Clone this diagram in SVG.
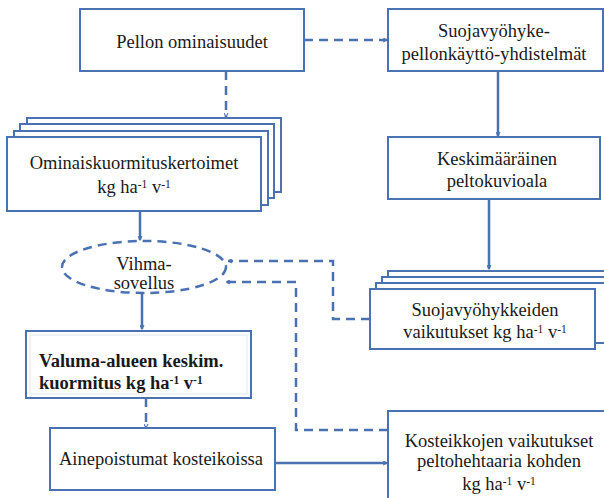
<svg xmlns="http://www.w3.org/2000/svg" width="604" height="498" viewBox="0 0 604 498">
  <defs>
    <style>
      .box { fill: #ffffff; stroke: #4A72B2; stroke-width: 2; }
      .t { font-family: 'Liberation Serif', 'DejaVu Serif', 'Times New Roman', serif; font-size: 18.5px; fill: #1a1a1a; text-anchor: middle; }
      .b { font-weight: bold; text-anchor: start; }
      .sup { font-size: 11.5px; }
      .solid { fill: none; stroke: #4A72B2; stroke-width: 2.5; }
      .dash { fill: none; stroke: #4A72B2; stroke-width: 2.5; stroke-dasharray: 9 6; }
    </style>
    <marker id="arr" viewBox="0 0 10 10" refX="9" refY="5" markerWidth="5" markerHeight="5" orient="auto" markerUnits="userSpaceOnUse">
      <path d="M1,1 L9,5 L1,9" fill="none" stroke="#4A72B2" stroke-width="2.2"/>
    </marker>
  </defs>
  <rect width="604" height="498" fill="#ffffff"/>

  <!-- connectors -->
  <g id="connectors">
    <path class="dash" d="M304,40 H387" marker-end="url(#arr)"/>
    <path class="dash" d="M226,71 V117" marker-end="url(#arr)"/>
    <path class="solid" d="M498,71 V136" marker-end="url(#arr)"/>
    <path class="solid" d="M489,199 V269" marker-end="url(#arr)"/>
    <path class="solid" d="M140,211 V240" marker-end="url(#arr)"/>
    <path class="solid" d="M142,293 V329" marker-end="url(#arr)"/>
    <path class="dash" d="M146,398 V428" marker-end="url(#arr)"/>
    <path class="solid" d="M275,463 H387" marker-end="url(#arr)"/>
    <path class="dash" d="M370,319 H333 V261 H228" marker-end="url(#arr)"/>
    <path class="dash" d="M388,430 H296 V282 H226" marker-end="url(#arr)"/>
  </g>

  <g id="pellon-ominaisuudet">
    <rect class="box" x="80" y="9" width="224" height="62"/>
    <text class="t" x="192" y="48">Pellon ominaisuudet</text>
  </g>

  <g id="suojavyohyke-yhdistelmat">
    <rect class="box" x="388" y="9" width="215" height="62"/>
    <text class="t" x="494" y="37">Suojavyöhyke-</text>
    <text class="t" x="494" y="60">pellonkäyttö-yhdistelmät</text>
  </g>

  <g id="keskimaarainen">
    <rect class="box" x="388" y="137" width="212" height="62"/>
    <text class="t" x="497" y="165">Keskimääräinen</text>
    <text class="t" x="497" y="187">peltokuvioala</text>
  </g>

  <g id="ominaiskuormituskertoimet">
    <rect class="box" x="27" y="118" width="254" height="74"/>
    <rect class="box" x="20" y="124" width="254" height="74"/>
    <rect class="box" x="14" y="131" width="254" height="74"/>
    <rect class="box" x="7" y="137" width="254" height="74"/>
    <text class="t" x="134" y="169">Ominaiskuormituskertoimet</text>
    <text class="t" x="134" y="193">kg ha<tspan class="sup" baseline-shift="5">-1</tspan> v<tspan class="sup" baseline-shift="5">-1</tspan></text>
  </g>

  <g id="suojavyohykkeiden-vaikutukset">
    <rect class="box" x="388" y="271" width="230" height="60"/>
    <rect class="box" x="382" y="277" width="230" height="60"/>
    <rect class="box" x="376" y="283" width="230" height="60"/>
    <rect class="box" x="370" y="289" width="225" height="60"/>
    <text class="t" x="485" y="316">Suojavyöhykkeiden</text>
    <text class="t" x="485" y="338">vaikutukset kg ha<tspan class="sup" baseline-shift="5">-1</tspan> v<tspan class="sup" baseline-shift="5">-1</tspan></text>
  </g>

  <g id="vihma-sovellus">
    <ellipse cx="144" cy="267" rx="82" ry="26" fill="#ffffff" stroke="#4A72B2" stroke-width="2.5" stroke-dasharray="9 6"/>
    <text class="t" x="144" y="270">Vihma-</text>
    <text class="t" x="144" y="289">sovellus</text>
  </g>

  <g id="valuma-alueen-kuormitus">
    <rect class="box" x="26" y="331" width="225" height="67"/>
    <rect x="30" y="335" width="217" height="59" fill="none" stroke="#dfe6f0" stroke-width="1"/>
    <text class="t b" x="39" y="367">Valuma-alueen keskim.</text>
    <text class="t b" x="39" y="389">kuormitus kg ha<tspan class="sup" baseline-shift="5">-1</tspan> v<tspan class="sup" baseline-shift="5">-1</tspan></text>
  </g>

  <g id="ainepoistumat">
    <rect class="box" x="50" y="428" width="225" height="62"/>
    <text class="t" x="161" y="465">Ainepoistumat kosteikoissa</text>
  </g>

  <g id="kosteikkojen-vaikutukset">
    <rect class="box" x="388" y="411" width="220" height="95"/>
    <text class="t" x="499" y="447">Kosteikkojen vaikutukset</text>
    <text class="t" x="499" y="467">peltohehtaaria kohden</text>
    <text class="t" x="499" y="490">kg ha<tspan class="sup" baseline-shift="5">-1</tspan> v<tspan class="sup" baseline-shift="5">-1</tspan></text>
  </g>
</svg>
